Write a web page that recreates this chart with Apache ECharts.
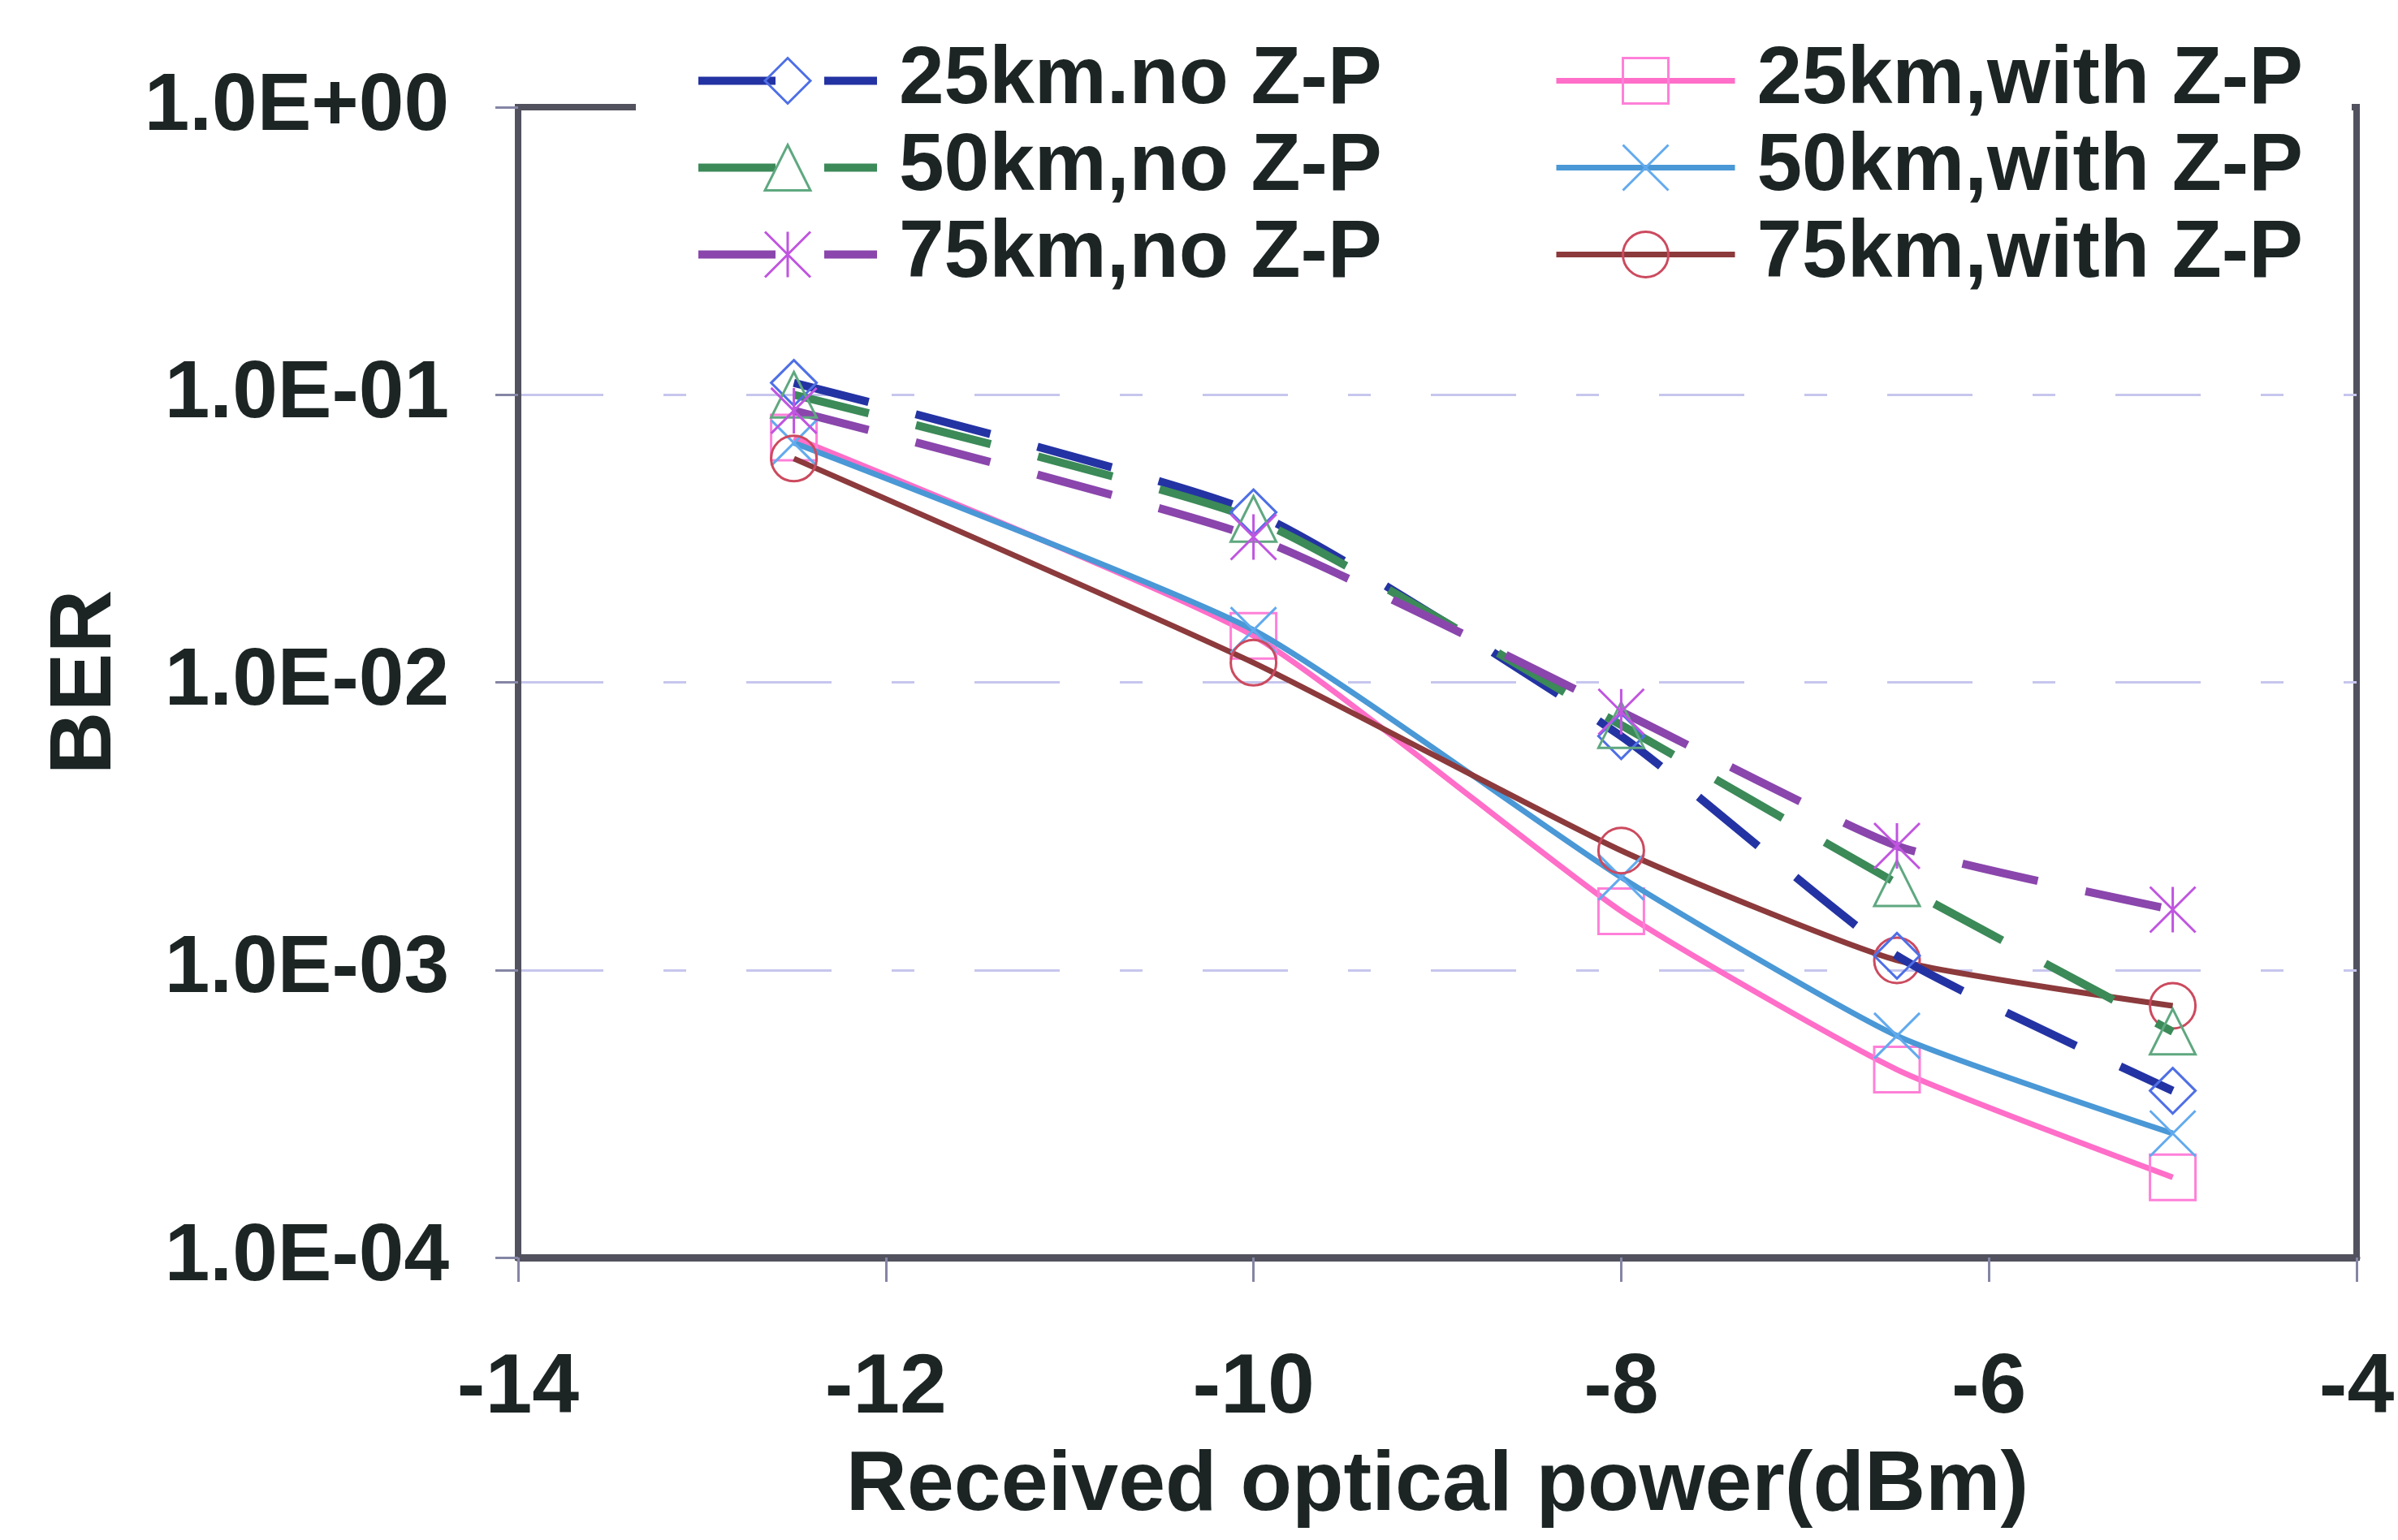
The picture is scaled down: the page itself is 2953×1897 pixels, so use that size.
<!DOCTYPE html>
<html>
<head>
<meta charset="utf-8">
<script src="https://cdn.jsdelivr.net/npm/echarts@6/dist/echarts.min.js"></script>
<style>
  html, body { margin: 0; padding: 0; background: #fff; }
  #chart { width: 2953px; height: 1897px; }
</style>
</head>
<body>
<div id="chart"></div>
<script>
// Received optical power (dBm) at each measurement
const powerDbm = [-12.5, -10, -8, -6.5, -5];

// Bit error rate per configuration
const ber25NoZP   = [0.11,  0.039,  0.0065, 0.00112, 0.00038];
const ber50NoZP   = [0.10,  0.037,  0.0071, 0.0020,  0.00061];
const ber75NoZP   = [0.088, 0.032,  0.0079, 0.0027,  0.00162];
const ber25WithZP = [0.071, 0.0145, 0.0016, 0.00045, 0.00019];
const ber50WithZP = [0.068, 0.0152, 0.0021, 0.00059, 0.00027];
const ber75WithZP = [0.060, 0.0117, 0.0026, 0.00108, 0.00075];

const seriesNames = [
  '25km.no Z-P', '50km,no Z-P', '75km,no Z-P',
  '25km,with Z-P', '50km,with Z-P', '75km,with Z-P'
];

// y tick labels, indexed by decade exponent + 4
const yTickLabels = ['1.0E-04', '1.0E-03', '1.0E-02', '1.0E-01', '1.0E+00'];

const FONT = 'Liberation Sans, Arial, sans-serif';
const TEXT = '#1c2424';
const AXIS = '#52525f';

const starPath = 'path://M0,0L10,10M10,0L0,10M5,0L5,10';
const crossPath = 'path://M0,0L10,10M10,0L0,10';

const styles = [
  { line: '#2433a3', mark: '#4f6fe6', symbol: 'diamond',  dashed: true },
  { line: '#3b8a58', mark: '#5fa880', symbol: 'triangle', dashed: true },
  { line: '#8a46ac', mark: '#c055e0', symbol: starPath,   dashed: true },
  { line: '#ff6ec8', mark: '#ff80d8', symbol: 'rect',     dashed: false },
  { line: '#4a98d6', mark: '#62aaee', symbol: crossPath,  dashed: false },
  { line: '#8c3a3c', mark: '#cc4a5e', symbol: 'circle',   dashed: false }
];

const values = [ber25NoZP, ber50NoZP, ber75NoZP, ber25WithZP, ber50WithZP, ber75WithZP];

const series = values.map((vals, i) => {
  const s = styles[i];
  return {
    name: seriesNames[i],
    type: 'line',
    data: powerDbm.map((x, k) => [x, vals[k]]),
    smooth: 0.18,
    symbol: s.symbol,
    symbolSize: 56,
    showAllSymbol: true,
    z: s.dashed ? 3 : (i === 3 ? 1 : 2),
    lineStyle: {
      color: s.line,
      width: s.dashed ? 10 : 7,
      type: s.dashed ? [95, 60] : 'solid'
    },
    itemStyle: {
      color: 'rgba(0,0,0,0)',
      borderColor: s.mark,
      borderWidth: 3
    },
    emphasis: { disabled: true }
  };
});

const legendBase = {
  orient: 'vertical',
  top: 46,
  padding: 0,
  itemWidth: 220,
  itemHeight: 70,
  itemGap: 0,
  selectedMode: false,
  textStyle: {
    fontFamily: FONT, fontSize: 100, fontWeight: 'bold', color: TEXT,
    lineHeight: 107, padding: [0, 0, 0, 22]
  },
  lineStyle: { width: 'inherit' },
  itemStyle: { borderWidth: 'inherit' }
};

const option = {
  backgroundColor: '#fff',
  animation: false,
  grid: {
    left: 638, right: 51, top: 132, bottom: 348,
    show: true, borderColor: AXIS, borderWidth: 8, backgroundColor: 'transparent'
  },
  graphic: {
    z: 3,
    elements: [{
      type: 'rect', z: 3,
      shape: { x: 783, y: 105, width: 2113, height: 50 },
      style: { fill: '#fff' }
    }]
  },
  legend: [
    Object.assign({}, legendBase, { left: 855, data: seriesNames.slice(0, 3) }),
    Object.assign({}, legendBase, { left: 1913, data: seriesNames.slice(3) })
  ],
  xAxis: {
    type: 'value', min: -14, max: -4, interval: 2,
    name: 'Received optical power(dBm)',
    nameLocation: 'middle', nameGap: 230,
    nameTextStyle: { fontFamily: FONT, fontSize: 104, fontWeight: 'bold', color: TEXT },
    axisLine: { show: true, onZero: false, lineStyle: { color: AXIS, width: 9 } },
    axisTick: { show: true, length: 30, lineStyle: { color: '#8585a5', width: 3 } },
    axisLabel: { margin: 110, fontFamily: FONT, fontSize: 104, fontWeight: 'bold', color: TEXT },
    splitLine: { show: false }
  },
  yAxis: {
    type: 'log', logBase: 10, min: 1e-4, max: 1,
    name: 'BER',
    nameLocation: 'middle', nameGap: 478, nameRotate: 90,
    nameTextStyle: { fontFamily: FONT, fontSize: 108, fontWeight: 'bold', color: TEXT },
    axisLine: { show: true, lineStyle: { color: AXIS, width: 8 } },
    axisTick: { show: true, length: 28, lineStyle: { color: '#8585a5', width: 3 } },
    axisLabel: {
      margin: 85, fontFamily: FONT, fontSize: 100, fontWeight: 'bold', color: TEXT,
      formatter: v => yTickLabels[Math.round(Math.log10(v)) + 4]
    },
    splitLine: {
      show: true, showMinLine: false, showMaxLine: false,
      lineStyle: { color: '#c6c6ee', width: 3, type: [105, 74, 28, 74] }
    }
  },
  series: series
};

const chart = echarts.init(document.getElementById('chart'), null, { renderer: 'canvas' });
chart.setOption(option);
</script>
</body>
</html>
